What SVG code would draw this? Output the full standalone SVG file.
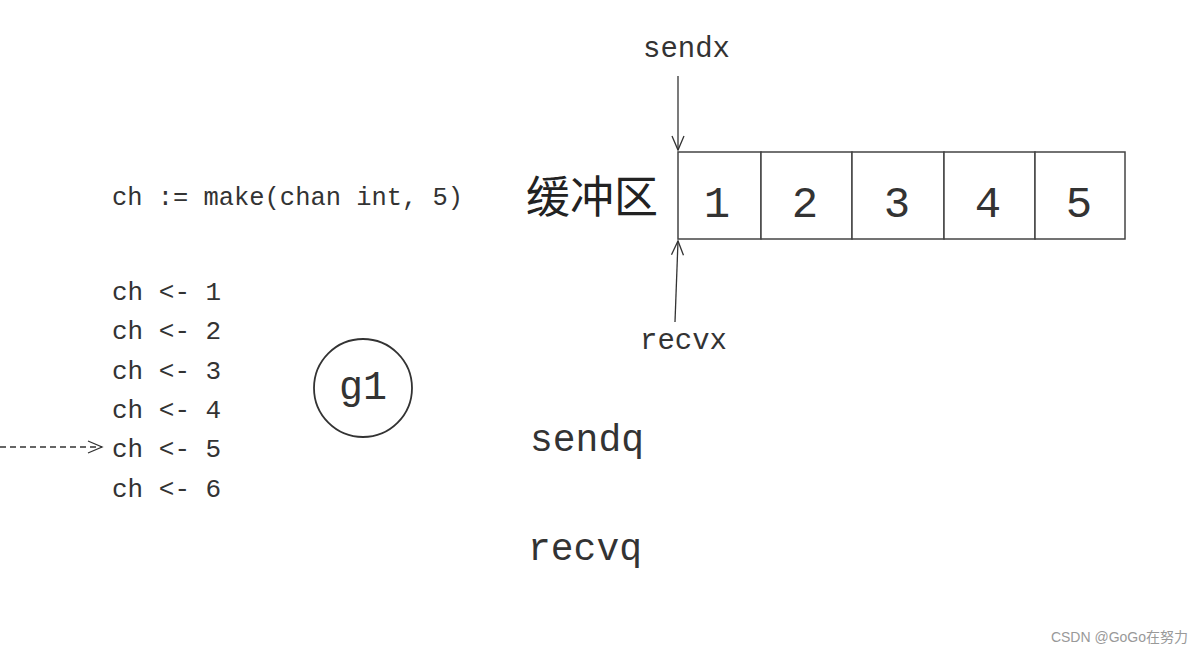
<svg xmlns="http://www.w3.org/2000/svg" width="1200" height="653" viewBox="0 0 1200 653">
<style>
.mono{font-family:"Liberation Mono","DejaVu Sans Mono",monospace;fill:#333}
.code{font-size:26px}
.lbl{font-size:29px}
.q{font-size:38px}
.num{font-family:"Liberation Mono",monospace;font-size:44px;fill:#333;text-anchor:middle}
.cell{fill:#fff;stroke:#444;stroke-width:1.5}
.conn{stroke:#333;stroke-width:1.3;fill:none}
</style>
<defs>
<marker id="v" markerWidth="18" markerHeight="18" refX="15" refY="9" orient="auto" markerUnits="userSpaceOnUse">
<path d="M1,3 L15,9 L1,15" fill="none" stroke="#333" stroke-width="1.3"/>
</marker>
</defs>
<rect width="1200" height="653" fill="#fff"/>
<g id="code">
<text class="mono code" x="112" y="205" textLength="351" lengthAdjust="spacingAndGlyphs">ch := make(chan int, 5)</text>
<text class="mono code" x="112" y="300">ch &lt;- 1</text>
<text class="mono code" x="112" y="339">ch &lt;- 2</text>
<text class="mono code" x="112" y="379">ch &lt;- 3</text>
<text class="mono code" x="112" y="418">ch &lt;- 4</text>
<text class="mono code" x="112" y="457">ch &lt;- 5</text>
<text class="mono code" x="112" y="497">ch &lt;- 6</text>
</g>
<g id="g1">
<circle cx="363" cy="388" r="49" fill="none" stroke="#333" stroke-width="1.8"/>
<text class="mono" x="363" y="399" font-size="40" text-anchor="middle">g1</text>
</g>
<g id="buffer-label">
<text x="592" y="213" font-family="'Noto Sans CJK SC',sans-serif" font-size="44" font-weight="400" fill="#222" text-anchor="middle">缓冲区</text>
</g>
<g id="buffer">
<rect class="cell" x="678" y="152" width="83" height="87"/>
<rect class="cell" x="761" y="152" width="91" height="87"/>
<rect class="cell" x="852" y="152" width="92" height="87"/>
<rect class="cell" x="944" y="152" width="91" height="87"/>
<rect class="cell" x="1035" y="152" width="90" height="87"/>
<text class="num" x="717" y="217">1</text>
<text class="num" x="805" y="217">2</text>
<text class="num" x="897" y="217">3</text>
<text class="num" x="988" y="217">4</text>
<text class="num" x="1079" y="217">5</text>
</g>
<g id="sendx"><text class="mono lbl" x="643" y="57">sendx</text></g>
<g id="recvx"><text class="mono lbl" x="640" y="349">recvx</text></g>
<g id="sendq"><text class="mono q" x="530" y="451">sendq</text></g>
<g id="recvq"><text class="mono q" x="528" y="560">recvq</text></g>
<g id="connectors">
<line class="conn" x1="678" y1="76" x2="678" y2="150" marker-end="url(#v)"/>
<line class="conn" x1="675" y1="322" x2="678" y2="241" marker-end="url(#v)"/>
<line class="conn" x1="0" y1="447" x2="102" y2="447" stroke-dasharray="6,4" marker-end="url(#v)"/>
</g>
<text x="1188" y="642" font-family="'Liberation Sans','Noto Sans CJK SC',sans-serif" font-size="14" fill="#999" text-anchor="end">CSDN @GoGo在努力</text>
</svg>
